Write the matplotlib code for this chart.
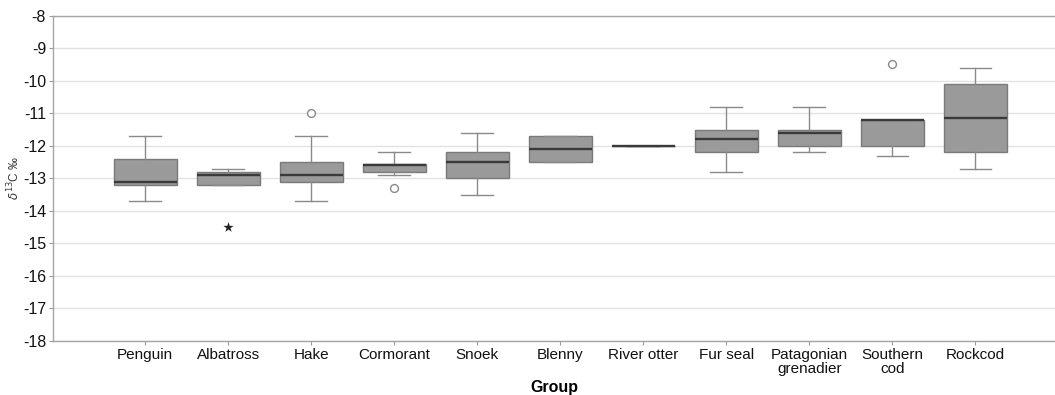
import numpy as np
import matplotlib
matplotlib.use("Agg")
import matplotlib.pyplot as plt

plt.rcParams['font.family'] = ['Liberation Sans', 'DejaVu Sans']

groups = ["Penguin", "Albatross", "Hake", "Cormorant", "Snoek", "Blenny",
          "River otter", "Fur seal", "Patagonian\ngrenadier", "Southern\ncod", "Rockcod"]
whis_lo = [-13.7, -13.2, -13.7, -12.9, -13.5, -12.5, -12.0, -12.8, -12.2, -12.3, -12.7]
q1 = [-13.2, -13.2, -13.1, -12.8, -13.0, -12.5, -12.0, -12.2, -12.0, -12.0, -12.2]
med = [-13.1, -12.9, -12.9, -12.6, -12.5, -12.1, -12.0, -11.8, -11.6, -11.2, -11.15]
q3 = [-12.4, -12.8, -12.5, -12.55, -12.2, -11.7, -12.0, -11.5, -11.5, -11.2, -10.1]
whis_hi = [-11.7, -12.7, -11.7, -12.2, -11.6, -11.7, -12.0, -10.8, -10.8, -11.2, -9.6]
# circles = outliers, stars = extremes
outliers = {2: [-11.0], 3: [-13.3], 9: [-9.5]}
extremes = {1: [-14.5]}

stats = []
for i, g in enumerate(groups):
    stats.append(dict(label=g, whislo=whis_lo[i], q1=q1[i], med=med[i],
                      q3=q3[i], whishi=whis_hi[i], fliers=[]))

fig = plt.figure(figsize=(10.55, 3.95), dpi=100)
ax = fig.add_axes([0.0502, 0.1367, 0.9498, 0.8236])

pos = np.arange(len(groups))
ax.bxp(stats, positions=pos, widths=0.76, patch_artist=True, showfliers=False,
       boxprops=dict(facecolor="#9a9a9a", edgecolor="#7a7a7a", linewidth=1),
       medianprops=dict(color="#3a3a3a", linewidth=1.7),
       whiskerprops=dict(color="#8a8a8a", linewidth=1),
       capprops=dict(color="#8a8a8a", linewidth=1), capwidths=0.38, zorder=3)

for i, vals in outliers.items():
    ax.scatter([pos[i]] * len(vals), vals, s=32, facecolors="white",
               edgecolors="#8a8a8a", linewidths=1, zorder=4)
for i, vals in extremes.items():
    ax.scatter([pos[i]] * len(vals), vals, s=60, marker="*", color="#222222",
               linewidths=0, zorder=4)

ax.set_ylim(-18, -8)
ax.set_xlim(-1.11, 10.96)
ax.set_yticks(np.arange(-18, -7, 1))
ax.set_yticklabels([str(v) for v in range(-18, -7)], fontsize=11.5)
ax.set_xticks(pos)
ax.set_xticklabels(groups, fontsize=11, linespacing=1.0)
ax.yaxis.grid(True, color="#e2e2e2", linewidth=1)
ax.set_axisbelow(True)
ax.tick_params(axis="both", colors="#9a9a9a", length=3, width=0.8, pad=2)
for lab in ax.get_xticklabels() + ax.get_yticklabels():
    lab.set_color("#111111")
ax.spines["right"].set_visible(False)
for s in ["left", "bottom", "top"]:
    ax.spines[s].set_color("#a5a5a5")
    ax.spines[s].set_linewidth(1)

ax.set_xlabel("Group", fontsize=11.5, fontweight="bold", labelpad=3)
ax.set_ylabel(r"$\delta^{13}$C ‰", fontsize=8.5, labelpad=0, color="#333333")

fig.savefig("out.png", dpi=100)
